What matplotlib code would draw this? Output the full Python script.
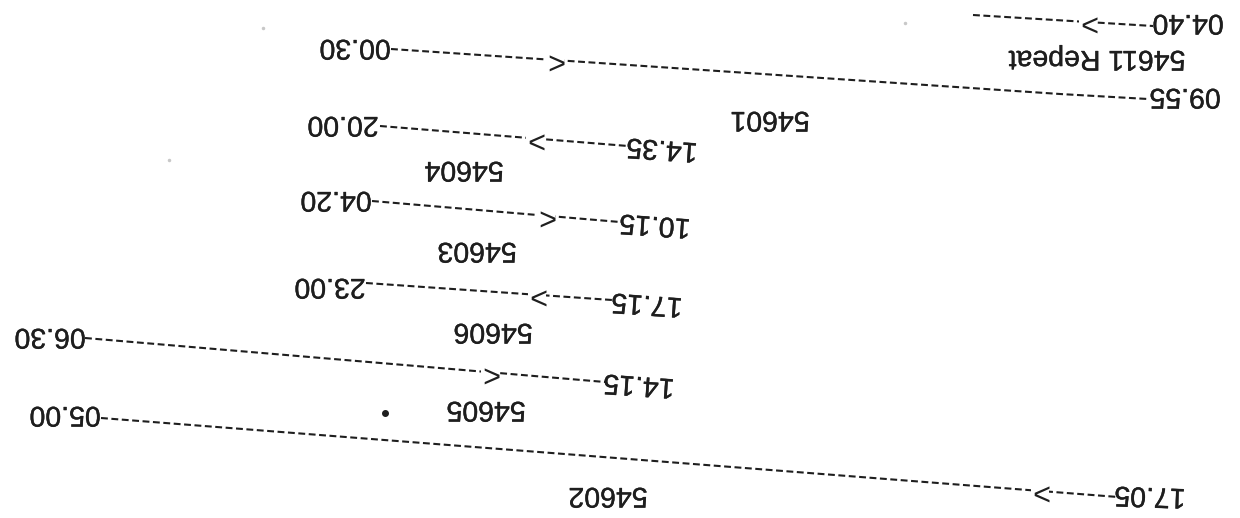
import matplotlib
matplotlib.use('Agg')
import matplotlib.pyplot as plt
import matplotlib.patheffects as pe
import numpy as np

# timetable rows (scan is upside down, so everything is drawn rotated 180)
trains = ['54611 Repeat', '54601', '54604', '54603', '54606', '54605', '54602']
depart = ['04.40', '09.55', '14.35', '10.15', '17.15', '14.15', '17.05']
arrive = [None, '00.30', '20.00', '04.20', '23.00', '06.30', '05.00']
arrows = ['>', '<', '>', '<', '>', '<', '>']

# layout in pixel coords of the page (x right, y down), points listed left -> right
line_pts = [
    [(973, 15), (1153, 26)],
    [(391, 49), (1060, 94), (1148, 99)],
    [(380, 126), (628, 146)],
    [(372, 201), (620, 222)],
    [(366, 283), (612, 300)],
    [(85, 338), (605, 382)],
    [(101, 418), (1118, 497)],
]
arrow_x = [1088, 555, 535, 546, 537, 490, 1040]
depart_xy = [(1188, 24), (1185, 98), (662, 150), (655, 226), (647, 305), (639, 386), (1150, 497)]
depart_rot = [180, 180, 176, 176, 176, 176, 178]
arrive_xy = [None, (355, 49), (343, 126), (336, 201), (330, 288), (50, 338), (65, 416)]
train_xy = [(1097, 60), (770, 121), (464, 171), (477, 252), (493, 333), (486, 411), (608, 497)]
dot_xy = (385, 413)
specks = [(263, 28), (169, 160), (905, 23)]

plt.rcParams['font.family'] = ['Liberation Sans', 'DejaVu Sans']
ink = '#1e1e1e'
fs = 20.5
scan = [pe.withStroke(linewidth=0.25, foreground=ink)]

fig = plt.figure(figsize=(12.4, 5.18), dpi=100)
ax = fig.add_axes([0, 0, 1, 1])
ax.set_xlim(0, 1240)
ax.set_ylim(518, 0)
ax.axis('off')


def label(x, y, s, rot=180, size=fs):
    ax.text(x, y - 2, s, fontsize=size, color=ink, rotation=rot,
            ha='center', va='center', path_effects=scan)


for i in range(len(trains)):
    xs = [p[0] for p in line_pts[i]]
    ys = [p[1] for p in line_pts[i]]
    ax.plot(xs, ys, color=ink, lw=1.5, linestyle=(0, (3.3, 1.7)),
            dash_capstyle='butt')

    # arrow glyph sits on the line
    xa = arrow_x[i]
    ya = np.interp(xa, xs, ys)
    ax.text(xa, ya - 1, arrows[i], fontsize=22, color=ink, rotation=180,
            ha='center', va='center',
            bbox=dict(facecolor='white', edgecolor='none', pad=0.0))

    label(*depart_xy[i], depart[i], rot=depart_rot[i])
    if arrive[i] is not None:
        label(*arrive_xy[i], arrive[i])
    label(*train_xy[i], trains[i])

ax.plot(*dot_xy, 'o', color=ink, ms=4)
for sx, sy in specks:
    ax.plot(sx, sy, 'o', color='#c8c8c8', ms=1.5)

fig.savefig('out.png', dpi=100, facecolor='white')
